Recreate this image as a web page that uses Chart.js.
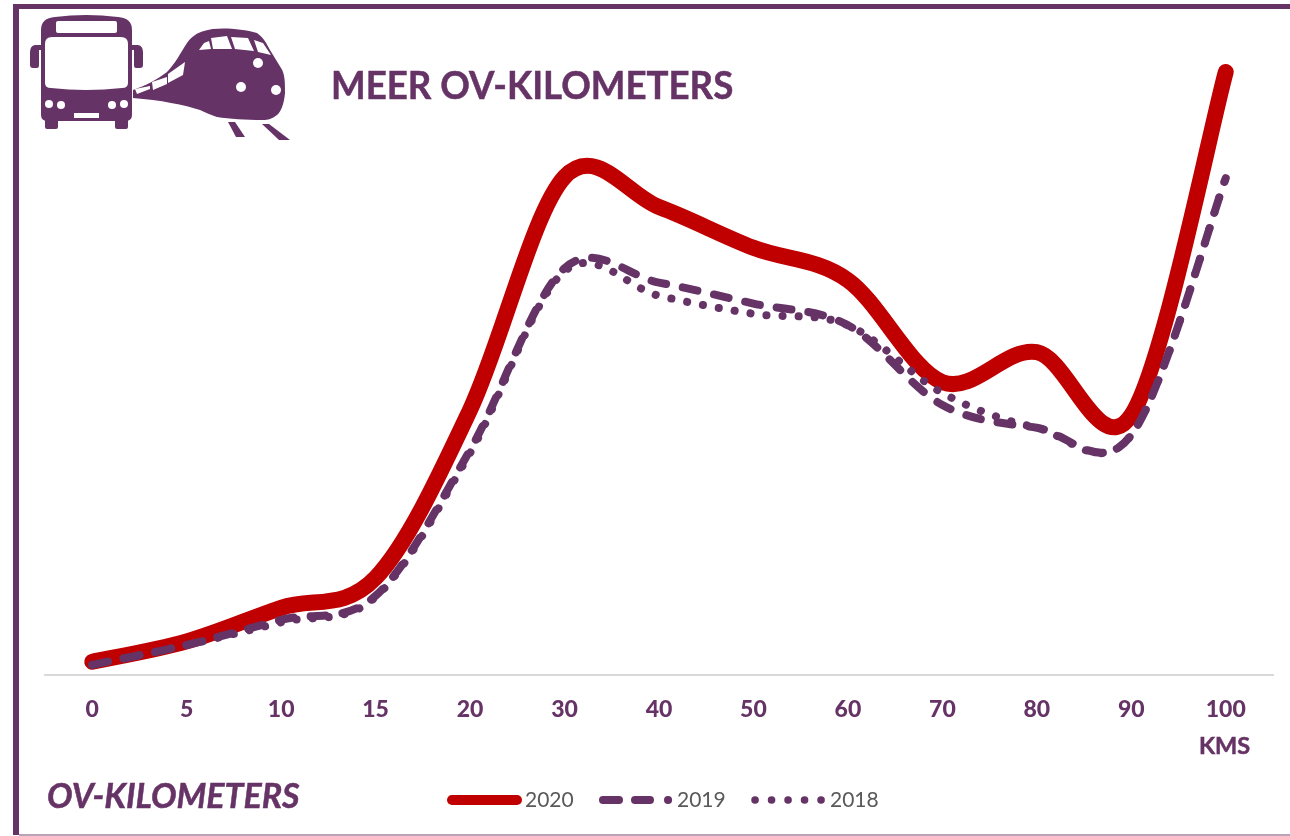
<!DOCTYPE html>
<html><head><meta charset="utf-8">
<script src="https://cdn.jsdelivr.net/npm/chart.js@4/dist/chart.umd.min.js"></script>
<style>
html,body{margin:0;padding:0;background:#fff;width:1290px;height:836px;overflow:hidden;font-family:Lato,sans-serif}
#frame{position:absolute;left:13px;top:4px;width:1290px;height:826px;border:solid #663366;border-width:5px 0 0 6px}
#bottom{position:absolute;left:19px;top:834px;width:1271px;height:1.5px;background:#b9a3b9}
canvas{position:absolute;left:0;top:0}
.t{position:absolute;white-space:nowrap;color:#663366;font-weight:700;-webkit-text-stroke:.5px #663366}
#title{left:331px;top:61px;font-size:39px;transform-origin:0 0;transform:scaleX(.94)}
#sub{left:47px;top:773px;font-size:35px;font-style:italic;transform-origin:0 0;transform:scaleX(.97)}
#kms{left:1199px;top:731px;font-size:23px;transform-origin:0 0;transform:scaleX(1.02)}
#legend svg{position:absolute;overflow:visible}
#legend span{position:absolute;color:#595959;font-size:21px;top:786px}
#icon{position:absolute;left:0;top:0}
</style></head><body>
<div id="frame"></div><div id="bottom"></div>
<canvas id="c" width="1290" height="836"></canvas>
<svg id="icon" width="300" height="145" viewBox="0 0 300 145">
<g fill="#663366">
<path d="M41,30Q41,18 55,17Q86,13 118,17Q132,18 132,30V115Q132,121 125,121H48Q41,121 41,115Z"/>
<rect x="45" y="118" width="13" height="11" rx="2"/><rect x="115" y="118" width="13" height="11" rx="2"/>
<path d="M41,45H35Q30,46 30,52V65Q30,68 33,68H37Q39,68 39,65V50H41Z"/>
<path d="M132,45H138Q143,46 143,52V65Q143,68 140,68H136Q134,68 134,65V50H132Z"/>
<path d="M133,90C145,86 158,79 167,72C175,64 181,52 187,43C192,36 197,33 204,31C215,27 240,28 257,33C263,37 267,44 270,50L281,68C285,74 285,82 285,93C284,104 281,112 277,115C272,119 268,120 263,120C245,120 230,119 217,117C210,115 205,112 200,110C185,105 160,100 133,98Z"/>
<path d="M228,122H235L245,137H236Z"/><path d="M262,124H269L290,140H279Z"/>
</g>
<g fill="#fff">
<rect x="56" y="21" width="61" height="12" rx="2"/>
<path d="M45,44Q45,37 52,37H121Q128,37 128,44V83Q128,88 122,88Q86,92 51,88Q45,88 45,83Z"/>
<circle cx="49" cy="104" r="4"/><circle cx="61" cy="105" r="4"/><circle cx="112" cy="105" r="4"/><circle cx="124" cy="104" r="4"/>
<rect x="74" y="113" width="25" height="5"/>
<path d="M199,50L204,43L209,41L211,49Z"/><path d="M211,38L227,36L232,49L213,49Z"/>
<path d="M231,37L248,38L254,51L235,49Z"/><path d="M254,40L263,43L271,55L258,52Z"/>
<path d="M135,89L150,86L150,89L137,94Z"/><path d="M152,82L167,77L167,84L153,90Z"/><path d="M168,74L185,62L183,75L168,83Z"/>
<circle cx="258" cy="63" r="5"/><circle cx="241" cy="87" r="5"/><circle cx="276" cy="90" r="5"/>
</g></svg>
<div class="t" id="title">MEER OV-KILOMETERS</div>
<div class="t" id="sub">OV-KILOMETERS</div>
<div class="t" id="kms">KMS</div>
<div id="legend"></div>
<script>
const categories = ['0','5','10','15','20','30','40','50','60','70','80','90','100'];
const series2020 = [2.2,5.6,11.2,16.2,44.2,83,78,71.2,65.8,48.8,53.8,43.3,100.5];
const series2019 = [1.7,5,9.2,13.2,37.5,67.8,65.4,61.9,58.3,45,41.2,40,82.8];
const series2018 = [1.7,5,8.8,13,37,67.3,63.2,60.2,58.3,47,41.2,40,82.8];
const purple = '#663366', red = '#C00000';
// Uniform Catmull-Rom smoothing (Excel-style) on the scaled points
const smoothLine = { id:'smoothLine', afterDatasetsUpdate(chart){
  chart.data.datasets.forEach((d,i)=>{
    const meta = chart.getDatasetMeta(i), pts = meta.data;
    pts.forEach((p,j)=>{
      const a = pts[Math.max(j-1,0)], b = pts[Math.min(j+1,pts.length-1)];
      const dx=(b.x-a.x)/6, dy=(b.y-a.y)/6;
      p.cp1x=p.x-dx; p.cp1y=p.y-dy; p.cp2x=p.x+dx; p.cp2y=p.y+dy;
    });
    meta.dataset._pointsUpdated = true;
  });
}};
new Chart(document.getElementById('c'), {
  type: 'line',
  plugins:[smoothLine],
  data: { labels: categories, datasets: [
    { label:'2018', data:series2018, borderColor:purple, borderWidth:8, borderDash:[0.1,16], borderCapStyle:'round', tension:0.5 },
    { label:'2019', data:series2019, borderColor:purple, borderWidth:8, borderDash:[15,17], borderCapStyle:'round', tension:0.5 },
    { label:'2020', data:series2020, borderColor:red, borderWidth:16, borderCapStyle:'round', borderJoinStyle:'round', tension:0.5 }
  ]},
  options: {
    responsive:false, animation:false,
    layout:{padding:{left:45,right:17,top:15,bottom:0}},
    elements:{point:{radius:0}},
    plugins:{legend:{display:false},tooltip:{enabled:false}},
    scales:{
      x:{ offset:true, grid:{display:false,drawTicks:false}, border:{color:'#d9d9d9',width:2},
          ticks:{color:purple,font:{family:'Lato',size:23,weight:'900'},padding:21,maxRotation:0,autoSkip:false},
          afterFit(s){s.height=161;} },
      y:{ display:false, min:0, max:110 }
    }
  }
});
const legendItems = [
  {label:'2020',color:red,w:10,dash:'',x1:452,x2:517,tx:525},
  {label:'2019',color:purple,w:8,dash:'16 16 15 18 0.1 99',x1:603,x2:672,tx:677},
  {label:'2018',color:purple,w:7.5,dash:'0.1 16.4',x1:755,x2:822,tx:830}
];
const lg=document.getElementById('legend');
legendItems.forEach(it=>{
  lg.insertAdjacentHTML('beforeend',`<svg style="left:0;top:0" width="1" height="1"><line x1="${it.x1}" y1="800" x2="${it.x2}" y2="800" stroke="${it.color}" stroke-width="${it.w}" stroke-linecap="round" stroke-dasharray="${it.dash}"/></svg><span style="left:${it.tx}px">${it.label}</span>`);
});
</script></body></html>
